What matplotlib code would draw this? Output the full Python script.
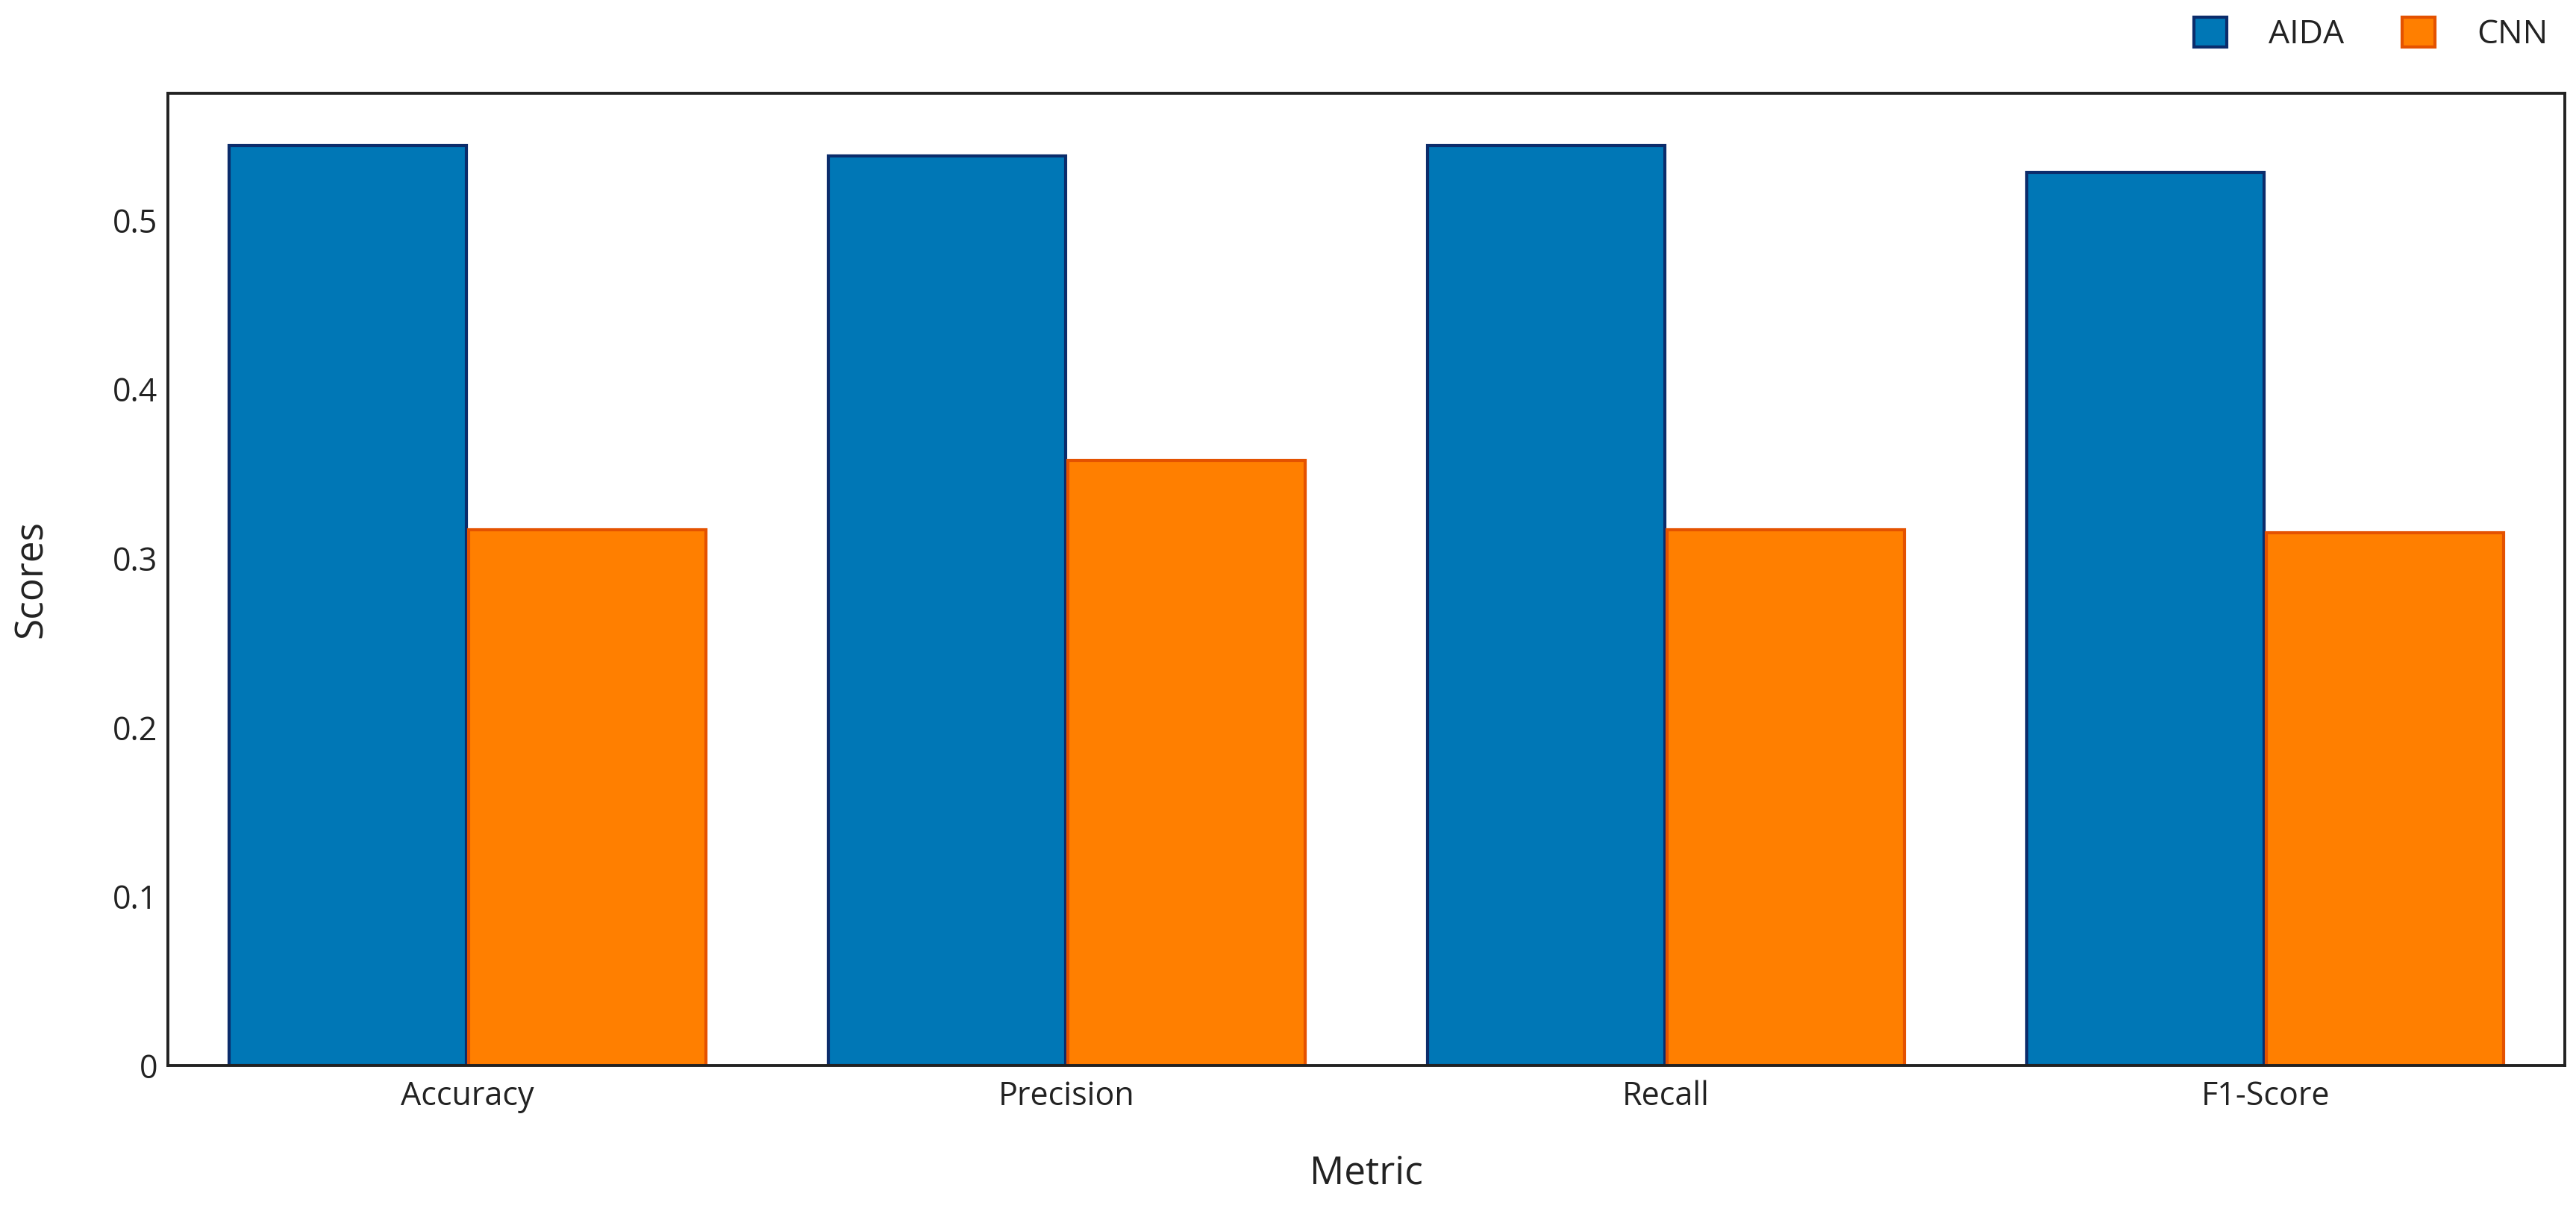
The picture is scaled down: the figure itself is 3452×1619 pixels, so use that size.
import matplotlib
matplotlib.use("Agg")
import matplotlib.pyplot as plt
import numpy as np

metrics = ["Accuracy", "Precision", "Recall", "F1-Score"]
aida = [0.544, 0.538, 0.544, 0.528]
cnn = [0.317, 0.358, 0.317, 0.315]
series_names = ["AIDA", "CNN"]
y_ticks = [0, 0.1, 0.2, 0.3, 0.4, 0.5]
y_tick_labels = ["0", "0.1", "0.2", "0.3", "0.4", "0.5"]

plt.rcParams["font.family"] = ["Open Sans", "DejaVu Sans"]
text_col = "#2a3f5f"
text_col = "#222222"

fig = plt.figure(figsize=(34.52, 16.19), dpi=100)
ax = fig.add_axes([0.0652, 0.118, 0.9305, 0.8048])

x = np.arange(len(metrics))
w = 0.396
ax.bar(x - 0.2, aida, w, color="#0077b6", edgecolor="#0b2c6b", linewidth=3, label=series_names[0])
ax.bar(x + 0.2, cnn, w, color="#ff7f00", edgecolor="#e45200", linewidth=3, label=series_names[1])

ax.set_xlim(-0.5, len(metrics) - 0.5)
ax.set_ylim(0, 0.575)
ax.set_xticks(x)
ax.set_xticklabels(metrics)
ax.set_yticks(y_ticks)
ax.set_yticklabels(y_tick_labels)
ax.tick_params(axis="both", length=0, labelsize=31, colors=text_col)
ax.tick_params(axis="y", pad=10)
ax.tick_params(axis="x", pad=14)

for s in ax.spines.values():
    s.set_linewidth(2.8)
    s.set_color("#222222")

ax.set_xlabel("Metric", fontsize=37, color=text_col, labelpad=40)
ax.set_ylabel("Scores", fontsize=37, color=text_col, labelpad=60)

fig.legend(loc="center right", bbox_to_anchor=(0.989, 0.9716), ncol=2, frameon=False,
           fontsize=32, handlelength=1.0, handleheight=1.0, handletextpad=1.25,
           columnspacing=1.75, borderpad=0, borderaxespad=0, labelcolor=text_col)

fig.savefig("out.png", dpi=100, facecolor="white")
